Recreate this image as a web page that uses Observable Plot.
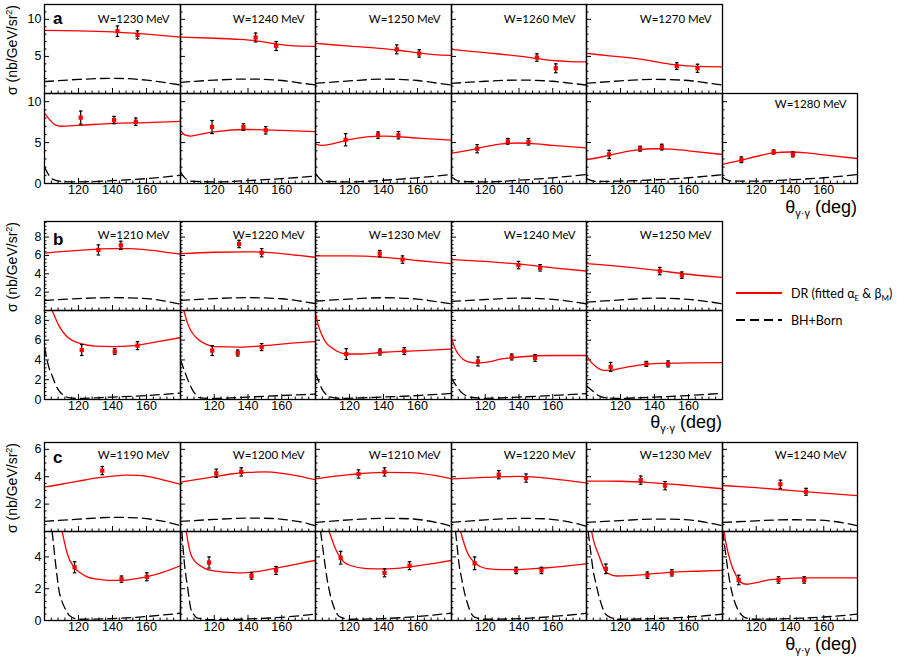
<!DOCTYPE html>
<html><head><meta charset="utf-8">
<script src="https://cdn.jsdelivr.net/npm/d3@7"></script>
<script src="https://cdn.jsdelivr.net/npm/@observablehq/plot@0.6"></script>
<style>
body{margin:0;background:#fff;}
#fig{position:relative;width:899px;height:662px;overflow:hidden;background:#fff;font-family:"Liberation Sans",Arial,sans-serif;}
#fig > svg{position:absolute;overflow:visible;}
</style></head><body><div id="fig"></div>
<script>
// ---------------- DATA ----------------
// theta (deg) axis
const xTickLabels = [120, 140, 160];

// Group a, top row
const wATop = [1230, 1240, 1250, 1260, 1270];
const redATop = [
  [[100,8.5],[120,8.45],[140,8.3],[160,8.0],[180,7.6]],
  [[100,7.6],[120,7.45],[135,7.3],[145,7.1],[155,6.75],[165,6.45],[180,6.35]],
  [[100,6.75],[120,6.4],[140,6.05],[150,5.8],[160,5.5],[170,5.25],[180,5.15]],
  [[100,5.95],[120,5.5],[140,5.05],[150,4.75],[160,4.45],[170,4.3],[180,4.25]],
  [[100,5.4],[115,5.05],[130,4.7],[145,4.1],[153,3.85],[165,3.65],[180,3.6]]
];
const dashATop = [
  [[100,1.6],[120,1.9],[140,2.05],[160,1.8],[170,1.5],[180,1.15]],
  [[100,1.5],[120,1.8],[140,1.95],[160,1.75],[170,1.45],[180,1.15]],
  [[100,1.37],[120,1.7],[140,1.94],[160,1.75],[170,1.45],[180,1.14]],
  [[100,1.37],[120,1.65],[140,1.81],[160,1.65],[170,1.4],[180,1.14]],
  [[100,1.37],[120,1.7],[140,1.9],[160,1.75],[170,1.45],[180,1.14]]
];
const ptsATop = [
  [[142.9,8.4,0.7],[154.7,7.9,0.55]],
  [[144.5,7.55,0.6],[156.7,6.4,0.6]],
  [[147.8,5.95,0.6],[161,5.4,0.5]],
  [[150.6,4.85,0.5],[161.8,3.4,0.6]],
  [[153.1,3.7,0.45],[165.3,3.4,0.55]]
];

// Group a, bottom row
const wABot = [1230, 1240, 1250, 1260, 1270, 1280];
const redABot = [
  [[100,8.6],[103,7.8],[106,7.2],[110,7.0],[120,7.1],[140,7.35],[160,7.45],[180,7.6]],
  [[100,6.45],[103,5.9],[106,5.8],[110,5.95],[120,6.3],[140,6.6],[160,6.5],[180,6.35]],
  [[100,4.8],[104,4.65],[110,4.85],[120,5.35],[130,5.7],[140,5.8],[160,5.55],[180,5.3]],
  [[100,3.7],[110,4.05],[120,4.5],[130,4.85],[140,4.95],[150,4.85],[160,4.65],[180,4.35]],
  [[100,2.9],[110,3.3],[120,3.75],[130,4.1],[140,4.25],[150,4.2],[160,4.0],[180,3.55]],
  [[100,2.35],[110,2.8],[120,3.3],[130,3.75],[140,3.85],[150,3.75],[160,3.5],[180,3.05]]
];
const dashABot = [
  [[100,2.0],[102,1.2],[105,0.5],[110,0.25],[120,0.2],[140,0.35],[160,0.6],[180,1.0]],
  [[100,1.4],[103,0.6],[106,0.3],[120,0.2],[140,0.35],[160,0.6],[180,0.9]],
  [[100,1.2],[103,0.5],[106,0.25],[120,0.2],[140,0.4],[160,0.7],[180,1.1]],
  [[100,0.8],[103,0.4],[106,0.25],[120,0.2],[140,0.4],[160,0.7],[180,1.1]],
  [[100,0.6],[103,0.35],[106,0.25],[120,0.3],[140,0.45],[160,0.7],[180,1.07]],
  [[100,0.77],[103,0.4],[106,0.3],[120,0.3],[140,0.45],[160,0.7],[180,1.1]]
];
const ptsABot = [
  [[121.3,8.05,0.8],[140.9,7.75,0.45],[153.7,7.55,0.45]],
  [[118.7,6.9,0.8],[137.3,6.9,0.4],[150.5,6.5,0.45]],
  [[117.7,5.35,0.75],[136.8,5.9,0.4],[148.8,5.9,0.45]],
  [[115.2,4.25,0.5],[133.4,5.15,0.35],[145.6,5.1,0.4]],
  [[113.3,3.55,0.5],[131.5,4.25,0.3],[144.3,4.45,0.35]],
  [[111.2,2.9,0.35],[130.3,3.85,0.25],[141.7,3.55,0.3]]
];

// Group b, top row
const wBTop = [1210, 1220, 1230, 1240, 1250];
const redBTop = [
  [[100,6.25],[120,6.55],[140,6.75],[150,6.75],[160,6.6],[170,6.4],[180,6.15]],
  [[100,6.2],[120,6.35],[140,6.4],[160,6.2],[170,6.0],[180,5.8]],
  [[100,5.95],[120,5.95],[140,5.8],[160,5.45],[180,5.1]],
  [[100,5.55],[120,5.35],[140,5.05],[160,4.65],[180,4.3]],
  [[100,5.1],[120,4.8],[140,4.4],[160,3.95],[180,3.6]]
];
const dashBTop = [
  [[100,1.1],[120,1.3],[140,1.4],[160,1.3],[170,1.05],[180,0.7]],
  [[100,1.1],[120,1.3],[140,1.4],[160,1.28],[170,1.05],[180,0.75]],
  [[100,1.02],[120,1.25],[140,1.39],[160,1.25],[170,1.0],[180,0.73]],
  [[100,0.99],[120,1.2],[140,1.35],[160,1.22],[170,1.0],[180,0.73]],
  [[100,0.91],[120,1.15],[140,1.35],[160,1.22],[170,1.0],[180,0.73]]
];
const ptsBTop = [
  [[131.7,6.6,0.55],[144.9,7.1,0.45]],
  [[134.7,7.25,0.4],[148.1,6.3,0.45]],
  [[137.8,6.2,0.35],[151.2,5.55,0.4]],
  [[139.7,4.95,0.4],[152.5,4.65,0.35]],
  [[143.1,4.3,0.4],[156.1,3.85,0.35]]
];

// Group b, bottom row
const wBBot = [1210, 1220, 1230, 1240, 1250];
const redBBot = [
  [[104.5,9.0],[106.5,8.2],[108.4,7.5],[112.4,6.5],[116,6.0],[121.3,5.65],[130,5.4],[140,5.35],[152.7,5.45],[165,5.8],[180,6.25]],
  [[102,9.0],[104,7.8],[106,7.0],[110,6.15],[115,5.6],[120,5.35],[135,5.3],[150,5.45],[170,5.75],[180,5.85]],
  [[100,8.7],[102,7.3],[104,6.45],[106,5.8],[109,5.3],[113,4.85],[118,4.6],[125,4.6],[140,4.78],[155,4.9],[180,5.1]],
  [[100,6.25],[102,5.2],[104,4.6],[107,4.05],[110,3.8],[115,3.68],[120,3.75],[130,4.1],[140,4.3],[160,4.45],[180,4.45]],
  [[100,4.4],[102,3.95],[104,3.55],[107,3.15],[110,2.95],[114,2.95],[120,3.15],[130,3.45],[140,3.62],[160,3.7],[180,3.72]]
];
const dashBBot = [
  [[100,5.3],[102.5,3.3],[104.5,2.4],[106.5,1.5],[108.5,0.9],[111,0.45],[114,0.2],[120,0.12],[140,0.25],[160,0.4],[180,0.65]],
  [[100,4.0],[101.5,3.3],[103,2.6],[105,1.7],[107,1.0],[109,0.5],[111,0.2],[120,0.1],[140,0.25],[160,0.4],[180,0.55]],
  [[100,2.6],[102,1.8],[104,1.0],[106,0.55],[109,0.25],[115,0.12],[140,0.25],[160,0.4],[180,0.62]],
  [[100,2.2],[102,1.6],[104,1.1],[106,0.7],[108,0.45],[111,0.25],[120,0.12],[140,0.25],[160,0.4],[180,0.6]],
  [[100,1.4],[104,0.8],[107,0.4],[110,0.2],[120,0.12],[140,0.25],[160,0.4],[180,0.64]]
];
const ptsBBot = [
  [[121.9,5.0,0.55],[141.3,4.85,0.3],[154.7,5.45,0.4]],
  [[118.8,4.95,0.5],[133.9,4.7,0.3],[148.1,5.3,0.35]],
  [[118.1,4.6,0.55],[137.9,4.8,0.3],[152.2,4.9,0.35]],
  [[115.7,3.85,0.45],[135.7,4.3,0.3],[149.5,4.2,0.35]],
  [[114.2,3.3,0.45],[135.2,3.6,0.25],[148,3.6,0.3]]
];

// Group c, top row
const wCTop = [1190, 1200, 1210, 1220, 1230, 1240];
const redCTop = [
  [[100,3.25],[110,3.45],[120,3.68],[130,3.9],[140,4.05],[148,4.12],[155,4.1],[165,3.92],[172,3.7],[180,3.45]],
  [[100,3.6],[110,3.8],[120,4.0],[130,4.2],[140,4.32],[150,4.35],[160,4.25],[170,4.05],[180,3.78]],
  [[100,3.85],[120,4.15],[140,4.32],[155,4.3],[170,4.1],[180,3.85]],
  [[100,3.85],[120,3.95],[140,4.02],[160,3.85],[180,3.55]],
  [[100,3.68],[120,3.67],[140,3.55],[160,3.35],[180,3.12]],
  [[100,3.36],[120,3.2],[140,3.0],[160,2.8],[180,2.62]]
];
const dashCTop = [
  [[100,0.74],[120,0.9],[140,1.03],[155,1.0],[165,0.85],[175,0.6],[180,0.42]],
  [[100,0.74],[120,0.88],[140,0.98],[155,0.95],[165,0.82],[175,0.6],[180,0.42]],
  [[100,0.66],[120,0.85],[140,0.96],[155,0.93],[165,0.8],[175,0.55],[180,0.37]],
  [[100,0.66],[120,0.85],[140,0.96],[155,0.93],[165,0.8],[175,0.55],[180,0.37]],
  [[100,0.66],[120,0.8],[140,0.91],[155,0.88],[165,0.78],[175,0.55],[180,0.42]],
  [[100,0.66],[120,0.78],[140,0.86],[155,0.84],[165,0.75],[175,0.55],[180,0.42]]
];
const ptsCTop = [
  [[134,4.45,0.3]],
  [[121.2,4.25,0.3],[136,4.35,0.3]],
  [[125.3,4.2,0.3],[140.6,4.35,0.3]],
  [[128,4.15,0.3],[144.2,3.9,0.3]],
  [[131.9,3.75,0.3],[146.2,3.35,0.3]],
  [[134.3,3.45,0.3],[149.5,2.9,0.25]]
];

// Group c, bottom row
const wCBot = [1190, 1200, 1210, 1220, 1230, 1240];
const redCBot = [
  [[110.4,5.6],[112,4.8],[113.4,4.2],[117.3,3.36],[121,3.0],[125,2.75],[131,2.6],[137,2.53],[145,2.53],[152,2.6],[160,2.75],[170,3.05],[180,3.45]],
  [[103.4,5.6],[104.5,4.9],[106,4.2],[108,3.8],[110,3.57],[114,3.3],[118,3.15],[126,3.05],[135,3.0],[145,3.08],[152,3.2],[162,3.4],[171,3.6],[180,3.78]],
  [[108,5.6],[110,5.0],[111.8,4.5],[114.8,3.92],[117,3.65],[120.7,3.46],[130,3.27],[142,3.25],[150,3.3],[158,3.4],[170,3.6],[180,3.78]],
  [[105.4,5.6],[107,5.0],[109.3,4.3],[113.3,3.67],[117,3.4],[121,3.27],[130,3.2],[137,3.2],[147,3.25],[157,3.32],[170,3.45],[180,3.57]],
  [[103,5.6],[104.5,4.9],[106.9,4.19],[109,3.6],[110.8,3.15],[113,2.95],[117.7,2.8],[125,2.82],[135,2.9],[151,3.05],[165,3.1],[180,3.15]],
  [[101,5.6],[102,4.9],[103,4.4],[104.5,3.78],[106,3.3],[107.5,2.95],[110.4,2.43],[114.4,2.28],[120,2.38],[126,2.53],[135,2.62],[150,2.68],[165,2.68],[180,2.68]]
];
const dashCBot = [
  [[104.5,5.6],[105.5,4.6],[106.5,3.6],[107.5,2.7],[108.5,1.9],[110,1.3],[112.5,0.67],[115,0.28],[120,0.08],[140,0.12],[160,0.25],[180,0.46]],
  [[100.8,5.6],[101.5,4.6],[102.3,3.6],[103.2,2.8],[104.2,2.1],[105.2,1.3],[106.2,0.7],[108,0.35],[110,0.15],[120,0.05],[140,0.1],[160,0.2],[180,0.4]],
  [[103,5.6],[104,4.8],[105,4.0],[106,3.2],[107,2.5],[108.5,1.7],[110,1.1],[112,0.55],[114,0.25],[120,0.08],[140,0.12],[160,0.25],[180,0.46]],
  [[102.4,5.6],[103.4,4.6],[104.4,3.6],[105.9,2.7],[107.4,1.9],[109.4,1.1],[111.4,0.5],[114,0.2],[120,0.08],[140,0.12],[160,0.25],[180,0.45]],
  [[101,5.6],[102.5,4.3],[103.9,3.15],[105.4,2.4],[106.9,1.7],[108.8,1.0],[110.8,0.46],[114,0.2],[120,0.08],[140,0.12],[160,0.22],[180,0.4]],
  [[100.2,5.6],[101,4.9],[102,4.1],[103,3.3],[104.5,2.33],[106,1.6],[107.5,1.08],[110.4,0.46],[113,0.2],[120,0.08],[140,0.12],[160,0.22],[180,0.4]]
];
const ptsCBot = [
  [[117.7,3.35,0.35],[145.3,2.6,0.2],[160.2,2.75,0.25]],
  [[116.9,3.65,0.35],[142.1,2.8,0.2],[156.6,3.15,0.25]],
  [[114.8,3.95,0.4],[140.6,3.0,0.25],[155.3,3.45,0.25]],
  [[113.7,3.6,0.4],[138.3,3.15,0.2],[153.3,3.15,0.2]],
  [[111.4,3.25,0.3],[135.8,2.85,0.2],[150.2,3.0,0.2]],
  [[109.6,2.55,0.3],[133.2,2.55,0.2],[148.4,2.55,0.2]]
];

// y-axis tick labels per row
const yLabATop = [5, 10], yLabABot = [0, 5, 10];
const yLabBTop = [2, 4, 6, 8], yLabBBot = [0, 2, 4, 6, 8];
const yLabCTop = [2, 4, 6], yLabCBot = [0, 2, 4];

// ---------------- LAYOUT ----------------
const fig = document.getElementById("fig");
const colX = i => Math.round(44 + i * 135.5);
const xMajor = [100, 120, 140, 160, 180];
const xMinor = d3.range(100, 181, 4).filter(v => !xMajor.includes(v));
const cap = {draw(ctx, size) { const w = Math.sqrt(size / Math.PI); ctx.moveTo(-w, 0); ctx.lineTo(w, 0); }};

const rows = [
  {w: wATop, red: redATop, dash: dashATop, pts: ptsATop, top: 4, bottom: 93, dom: [0, 12], lab: yLabATop, minorStep: 1, xlab: false, wDy: 15, labeled: () => true},
  {w: wABot, red: redABot, dash: dashABot, pts: ptsABot, top: 93, bottom: 183, dom: [0, 11], lab: yLabABot, minorStep: 1, xlab: true, wDy: 11, labeled: i => i === 5},
  {w: wBTop, red: redBTop, dash: dashBTop, pts: ptsBTop, top: 221, bottom: 310, dom: [0, 9.7], lab: yLabBTop, minorStep: 0.4, xlab: false, wDy: 14, labeled: () => true},
  {w: wBBot, red: redBBot, dash: dashBBot, pts: ptsBBot, top: 310, bottom: 399, dom: [0, 9], lab: yLabBBot, minorStep: 0.4, xlab: true, wDy: 0, labeled: () => false},
  {w: wCTop, red: redCTop, dash: dashCTop, pts: ptsCTop, top: 442, bottom: 531, dom: [0, 6.5], lab: yLabCTop, minorStep: 0.5, xlab: false, wDy: 13, labeled: () => true},
  {w: wCBot, red: redCBot, dash: dashCBot, pts: ptsCBot, top: 531, bottom: 620, dom: [0, 5.6], lab: yLabCBot, minorStep: 0.4, xlab: true, wDy: 0, labeled: () => false}
];

const mL = 40, mR = 6, mT = 6, mB = 26;
rows.forEach(row => {
  const majorStep = row.lab[1] - row.lab[0];
  const yMajor = d3.range(0, row.dom[1] + 1e-9, majorStep);
  const yMinor = d3.range(0, row.dom[1] + 1e-9, row.minorStep).map(v => +v.toFixed(2)).filter(v => Math.abs(v / majorStep - Math.round(v / majorStep)) > 1e-6);
  row.w.forEach((w, i) => {
    const L = colX(i), R = colX(i + 1), W = R - L, H = row.bottom - row.top;
    const pts = row.pts[i];
    const marks = [
      Plot.tickY(yMinor, {y: d => d, insetRight: W - 2.5, stroke: "black", strokeWidth: 1}),
      Plot.tickY(yMajor, {y: d => d, insetRight: W - 5, stroke: "black", strokeWidth: 1}),
      Plot.tickX(xMinor, {x: d => d, insetTop: H - 2.5, stroke: "black", strokeWidth: 1}),
      Plot.tickX(xMajor, {x: d => d, insetTop: H - 5, stroke: "black", strokeWidth: 1}),
      Plot.line(row.dash[i], {x: d => d[0], y: d => d[1], stroke: "black", strokeWidth: 1.3, strokeDasharray: "9,5", curve: "monotone-x", clip: true}),
      Plot.line(row.red[i], {x: d => d[0], y: d => d[1], stroke: "#ff0000", strokeWidth: 1.3, curve: "monotone-x", clip: true}),
      Plot.ruleX(pts, {x: d => d[0], y1: d => d[1] - d[2], y2: d => d[1] + d[2], stroke: "black", strokeWidth: 1.2}),
      Plot.dot(pts, {x: d => d[0], y: d => d[1] - d[2], symbol: cap, r: 1.8, stroke: "black", strokeWidth: 1.2}),
      Plot.dot(pts, {x: d => d[0], y: d => d[1] + d[2], symbol: cap, r: 1.8, stroke: "black", strokeWidth: 1.2}),
      Plot.dot(pts, {x: d => d[0], y: d => d[1], symbol: "square", r: 2.4, fill: "#ff0000"}),
      Plot.frame({stroke: "black", strokeWidth: 1.3})
    ];
    if (i === 0) marks.push(Plot.axisY(row.lab, {anchor: "left", tickSize: 0, tickPadding: 3, fontSize: 12.5, label: null}));
    if (row.xlab) marks.push(Plot.axisX(xTickLabels, {anchor: "bottom", tickSize: 0, tickPadding: 2, fontSize: 12.5, label: null}));
    if (row.labeled(i)) marks.push(Plot.text([`W=${w} MeV`], {text: d => d, frameAnchor: "top-right", dx: -11, dy: row.wDy, textAnchor: "end", lineAnchor: "middle", fontFamily: "Lato", fontSize: 11.5, fill: "black"}));
    const svg = Plot.plot({
      width: W + mL + mR, height: H + mT + mB,
      marginLeft: mL, marginRight: mR, marginTop: mT, marginBottom: mB,
      x: {domain: [100, 180], axis: null},
      y: {domain: row.dom, axis: null},
      style: {background: "transparent", overflow: "visible", fontFamily: "'Liberation Sans', Arial, sans-serif", fontSize: "12.5px", color: "black"},
      marks
    });
    svg.style.position = "absolute";
    svg.style.left = (L - mL) + "px";
    svg.style.top = (row.top - mT) + "px";
    svg.style.maxWidth = "none";
    fig.appendChild(svg);
  });
});

// ---------------- ANNOTATIONS ----------------
const ann = d3.select(fig).append("svg").attr("width", 899).attr("height", 662)
  .style("left", "0px").style("top", "0px").style("pointer-events", "none");
const groups = [
  {letter: "a", ly: 24, top: 4, xEnd: 857, xBase: 213},
  {letter: "b", ly: 245, top: 221, xEnd: 722, xBase: 428},
  {letter: "c", ly: 463, top: 442, xEnd: 857, xBase: 650}
];
groups.forEach(g => {
  ann.append("text").attr("x", 53).attr("y", g.ly).attr("font-family", "'Liberation Sans', Arial").attr("font-weight", "bold").attr("font-size", 17).text(g.letter);
  const yt = ann.append("text").attr("transform", `translate(17,${g.top + 1}) rotate(-90)`).attr("text-anchor", "end")
    .attr("font-family", "'Liberation Sans', Arial").attr("font-size", 14);
  yt.append("tspan").text("σ (nb/GeV/sr");
  yt.append("tspan").attr("font-size", 9).attr("dy", -5).text("2");
  yt.append("tspan").attr("dy", 5).text(")");
  const xt = ann.append("text").attr("x", g.xEnd).attr("y", g.xBase).attr("text-anchor", "end")
    .attr("font-family", "'Liberation Sans', Arial").attr("font-size", 18);
  xt.append("tspan").text("θ");
  xt.append("tspan").attr("font-size", 11).attr("dy", 4).text("γ·γ");
  xt.append("tspan").attr("dy", -4).text(" (deg)");
});
// legend
const lg = ann.append("g").attr("font-family", "Lato").attr("font-size", 12.5);
lg.append("line").attr("x1", 736).attr("x2", 782).attr("y1", 293).attr("y2", 293).attr("stroke", "#ff0000").attr("stroke-width", 2);
const t1 = lg.append("text").attr("x", 791).attr("y", 297.5);
t1.append("tspan").text("DR (fitted α");
t1.append("tspan").attr("font-size", 8).attr("dy", 3).text("E");
t1.append("tspan").attr("dy", -3).text(" & β");
t1.append("tspan").attr("font-size", 8).attr("dy", 3).text("M");
t1.append("tspan").attr("dy", -3).text(")");
lg.append("line").attr("x1", 736).attr("x2", 782).attr("y1", 320).attr("y2", 320).attr("stroke", "black").attr("stroke-width", 2).attr("stroke-dasharray", "9,5");
lg.append("text").attr("x", 791).attr("y", 325).text("BH+Born");
</script>
</body></html>
